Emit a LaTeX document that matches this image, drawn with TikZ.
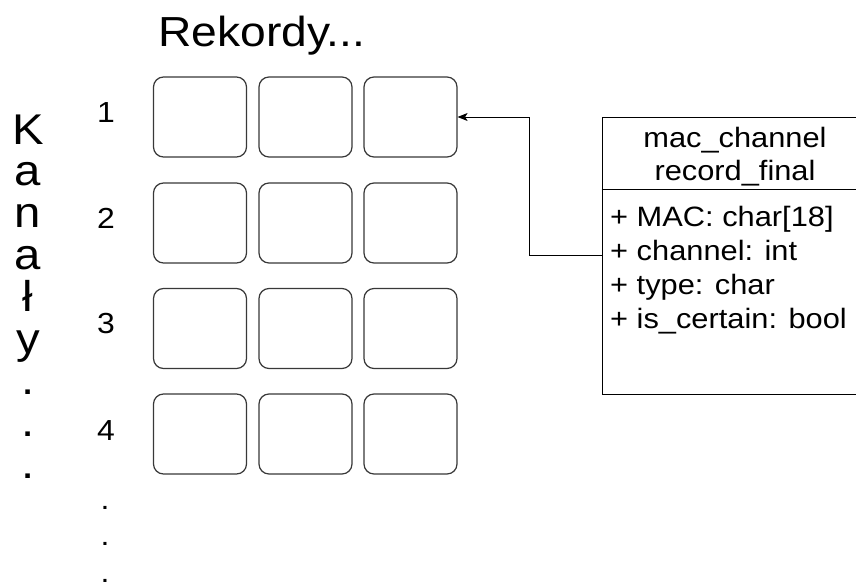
\documentclass[tikz,border=0pt]{standalone}
\usepackage{fontspec}
\setmainfont{Liberation Sans}[FakeStretch=1.1]
\usetikzlibrary{arrows.meta}
\begin{document}
\begin{tikzpicture}[x=1pt,y=-1pt,
  cell/.style={draw=black!78, line width=1.2pt, rounded corners=10pt,
    minimum width=93pt, minimum height=80pt, inner sep=0pt},
  rownum/.style={anchor=base, inner sep=0pt, font=\fontsize{29}{34}\selectfont},
  classbox/.style={draw, line width=0.9pt, minimum width=268pt,
    minimum height=277pt, inner sep=0pt},
  conn/.style={draw, line width=0.9pt, -{Stealth[length=10pt,width=8pt,inset=2.5pt]}}]
\useasboundingbox (0,0) rectangle (856,583);

% heading above the grid
\node[anchor=base west, inner sep=0pt, font=\fontsize{42}{50}\selectfont]
  (title) at (158,47) {Rekordy...};

% vertical caption on the left (anchored at the baseline of its last line)
\node[anchor=base, inner sep=0pt, align=center,
  font=\fontsize{43}{41.8}\selectfont]
  (kanaly) at (28,478.5) {K\\a\\n\\a\\ł\\y\\.\\.\\.};

% 4 x 3 grid of record cells
\foreach \r/\y in {1/117,2/223,3/328.5,4/434}{
  \foreach \c/\x in {1/200,2/305.5,3/410.5}{
    \node[cell] (c-\r-\c) at (\x,\y) {};
  }
}

% row numbers
\node[rownum] (n1) at (106,123) {1};
\node[rownum] (n2) at (106,228) {2};
\node[rownum] (n3) at (106,333) {3};
\node[rownum] (n4) at (106,440) {4};
\node[rownum, align=center, font=\fontsize{29}{36.5}\selectfont]
  (ndots) at (105,582) {.\\.\\.};

% class box of the record structure
\node[classbox] (cls) at (736,255.5) {};
\draw[line width=0.9pt] ([yshift=-73pt]cls.north west) -- ([yshift=-73pt]cls.north east);
\node[anchor=base, inner sep=0pt, align=center,
  font=\fontsize{28}{33}\selectfont]
  (clsname) at (735,180) {mac\_channel\\record\_final};
\node[anchor=base west, inner sep=0pt, align=left,
  font=\fontsize{28}{33.8}\selectfont]
  (clsattr) at (610,328)
  {+ MAC: char[18]\\+ channel: int\\+ type: char\\+ is\_certain: bool};

% connector from the structure to the first record
\draw[conn] (cls.west) -- ++(-72,0) |- (c-1-3.east);
\end{tikzpicture}
\end{document}
